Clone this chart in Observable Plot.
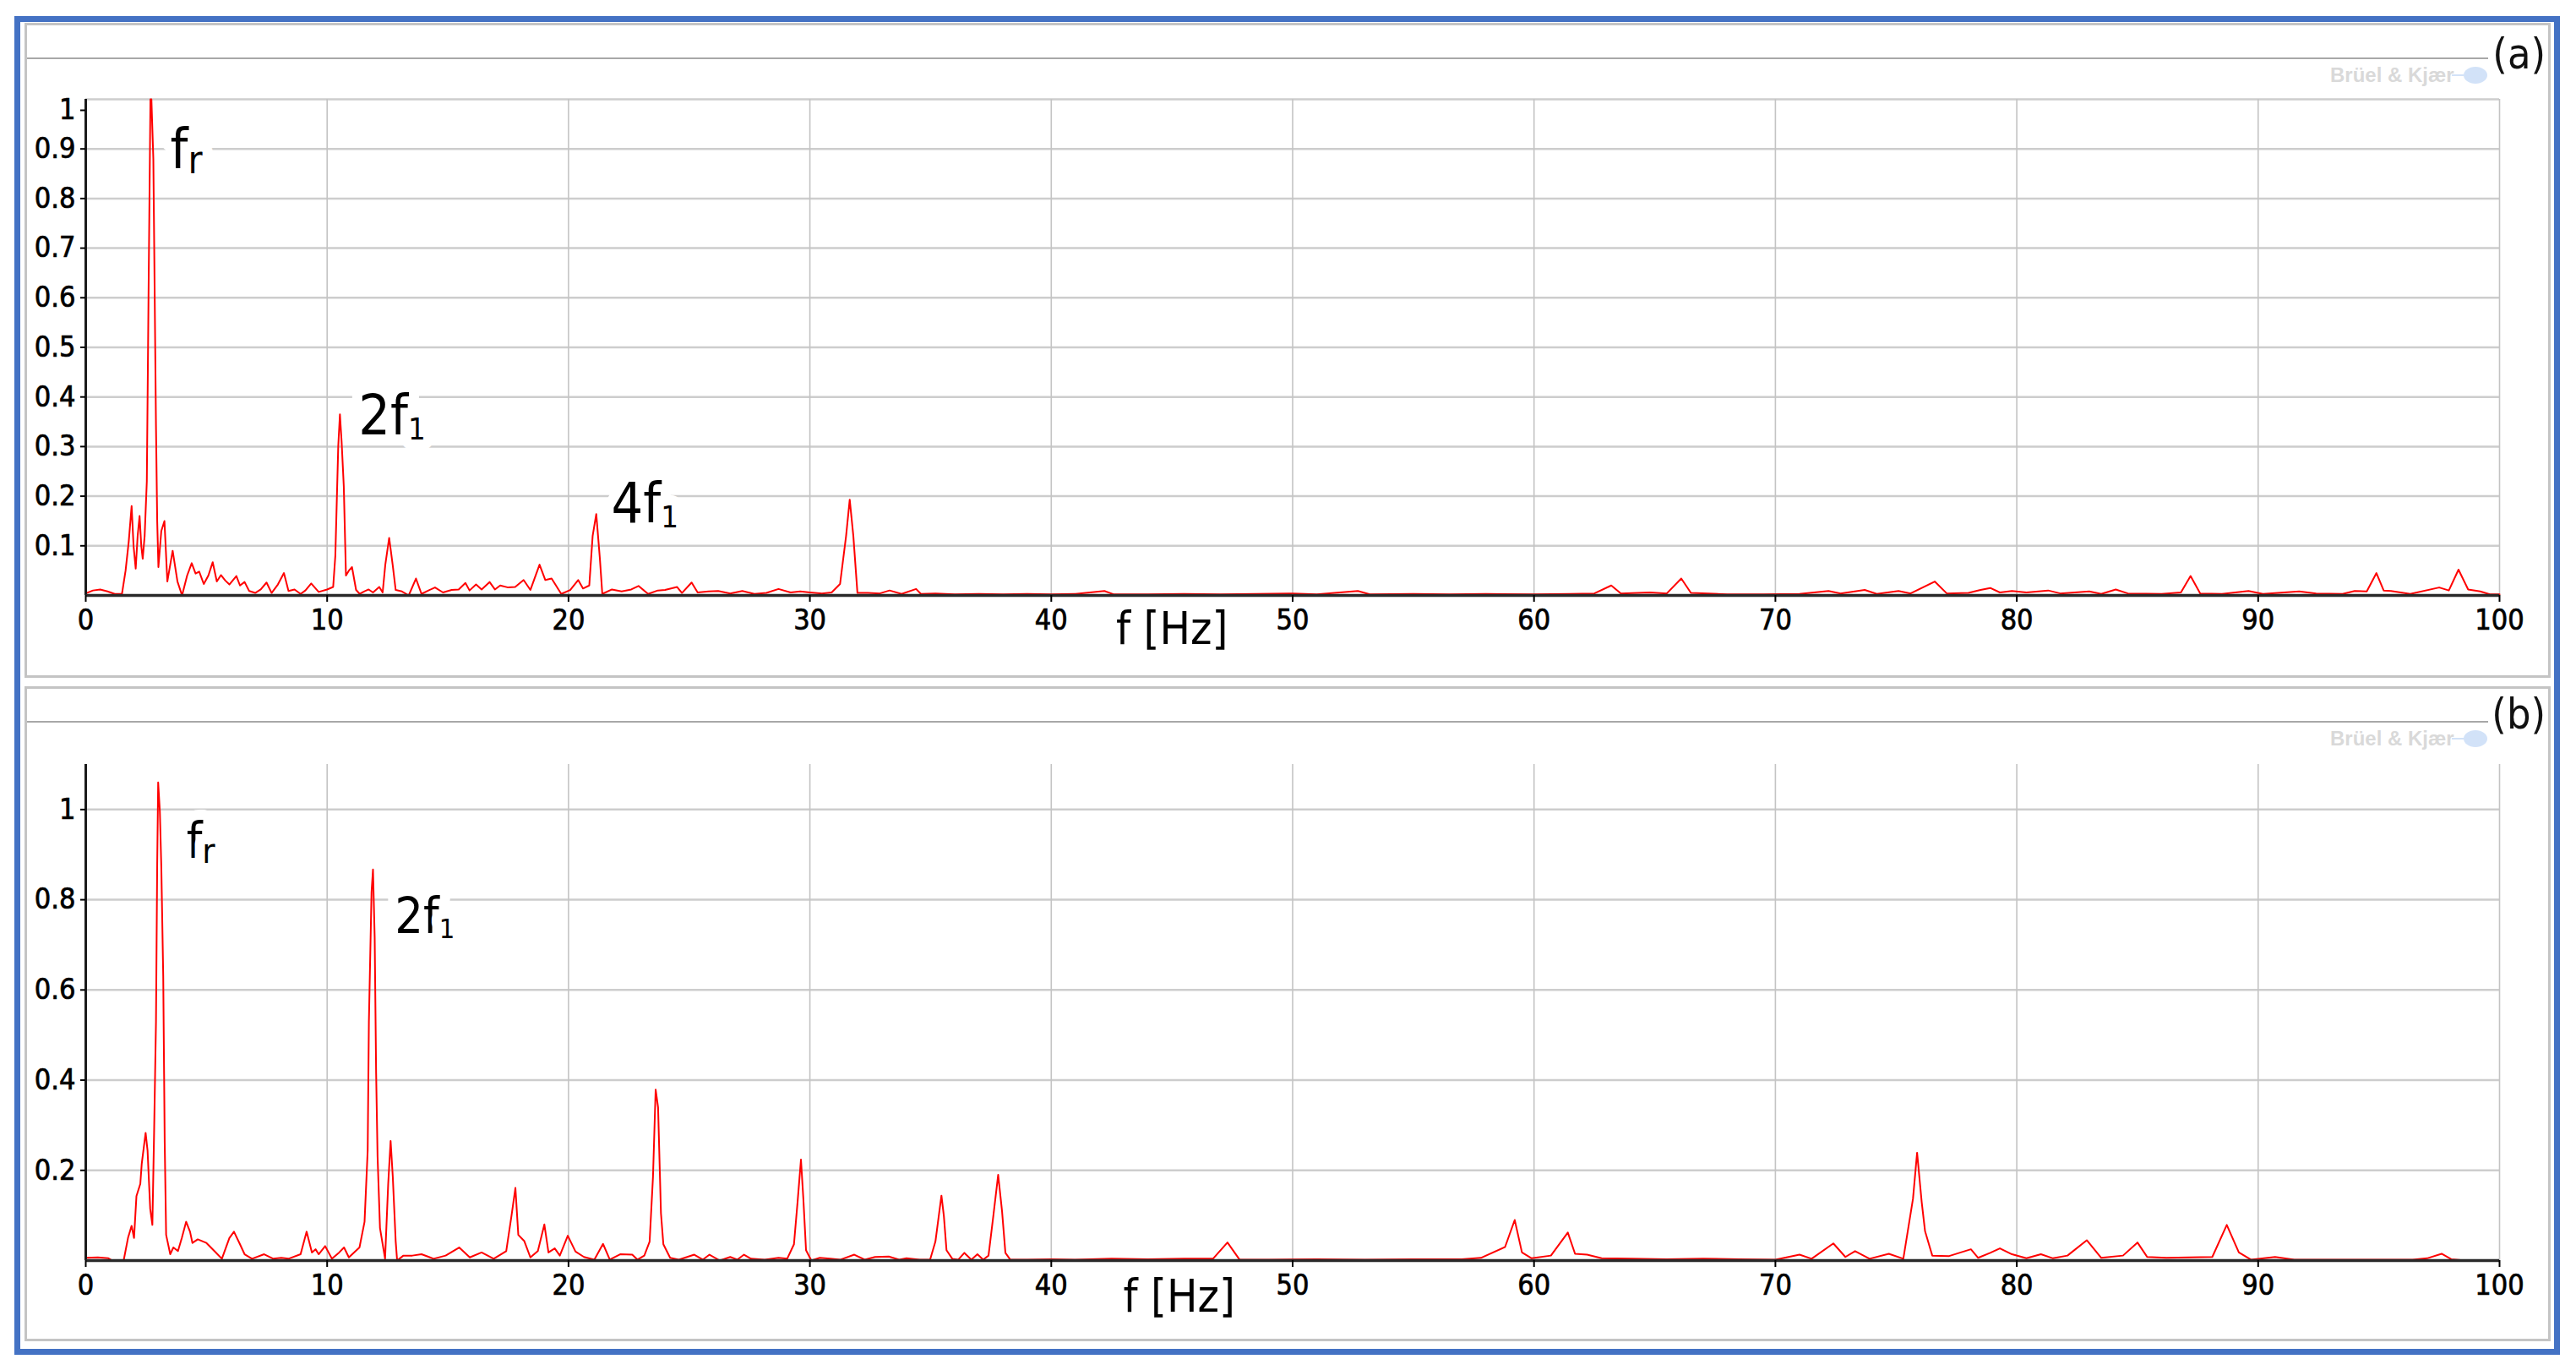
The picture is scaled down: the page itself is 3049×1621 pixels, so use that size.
<!DOCTYPE html>
<html>
<head>
<meta charset="utf-8">
<script src="https://cdn.jsdelivr.net/npm/d3@7"></script>
<script src="https://cdn.jsdelivr.net/npm/@observablehq/plot@0.6"></script>
<style>
  html, body { margin: 0; padding: 0; background: #fff; }
  #page { position: relative; width: 3049px; height: 1621px; background: #fff; overflow: hidden;
          font-family: 'DejaVu Sans Condensed', 'DejaVu Sans', sans-serif; font-stretch: condensed; }
  .abs { position: absolute; }
  .blue { left: 17px; top: 19px; width: 3013px; height: 1584px; box-sizing: border-box; border: 7px solid #4472c4; }
  .frame { left: 29px; width: 2990px; height: 775px; box-sizing: border-box; border: 3px solid #c4c4c4; }
  .hline { left: 32px; width: 2913px; height: 2px; background: #a8a8a8; }
  .plabel { width: 120px; text-align: right; font-size: 50px; line-height: 50px; color: #111; }
  .wm { font-family: 'Liberation Sans', Arial, sans-serif; font-weight: bold; font-size: 24px; line-height: 24px; color: #d9d9d9; font-stretch: normal; }
  .logo { width: 28px; height: 20px; border-radius: 50%; background: #d2e2f8; }
  .logoline { width: 14px; height: 2px; background: #d2e2f8; }
  .chart { left: 0; }
  #page svg g[aria-label="y-axis tick label"] text,
  #page svg g[aria-label="x-axis tick label"] text { stroke: #000; stroke-width: 0.7px; }
</style>
</head>
<body>
<div id="page">
  <div class="abs blue"></div>
  <div class="abs frame" style="top:27px"></div>
  <div class="abs frame" style="top:812px"></div>
  <div class="abs hline" style="top:68px"></div>
  <div class="abs hline" style="top:853px"></div>
  <div class="abs wm" style="left:2758px; top:77px">Brüel &amp; Kjær</div>
  <div class="abs logoline" style="left:2902px; top:88px"></div>
  <div class="abs logo" style="left:2916px; top:79px"></div>
  <div class="abs wm" style="left:2758px; top:862px">Brüel &amp; Kjær</div>
  <div class="abs logoline" style="left:2902px; top:873px"></div>
  <div class="abs logo" style="left:2916px; top:864px"></div>
  <div class="abs plabel" style="left:2893px; top:39px">(a)</div>
  <div class="abs plabel" style="left:2893px; top:820px">(b)</div>
  <div class="abs chart" id="chartA" style="top:0px"></div>
  <div class="abs chart" id="chartB" style="top:802px"></div>
</div>
<script>
// ---------- Data ----------
const freqA = [0,0.3,0.6,0.9,1.2,1.5,1.65,1.78,1.9,1.98,2.07,2.15,2.23,2.3,2.36,2.44,2.53,2.6,2.68,2.72,2.8,2.91,2.96,3.01,3.13,3.26,3.38,3.6,3.8,3.99,4.2,4.39,4.55,4.7,4.89,5.08,5.26,5.43,5.6,5.78,5.95,6.24,6.39,6.58,6.77,7.02,7.25,7.49,7.7,7.96,8.21,8.4,8.65,8.9,9.1,9.34,9.65,10.0,10.25,10.34,10.46,10.53,10.6,10.69,10.78,10.9,11.03,11.2,11.35,11.53,11.72,11.9,12.16,12.3,12.41,12.57,12.72,12.84,13.1,13.38,13.68,13.91,14.2,14.47,14.8,15.16,15.45,15.73,15.9,16.17,16.4,16.73,16.95,17.17,17.5,17.79,18.14,18.42,18.8,19.04,19.3,19.7,20.07,20.4,20.6,20.86,21.0,21.15,21.3,21.4,21.8,22.2,22.6,22.9,23.3,23.7,24.0,24.5,24.7,25.1,25.35,25.8,26.2,26.7,27.2,27.7,28.2,28.7,29.2,29.6,30.0,30.5,30.9,31.25,31.5,31.65,31.8,31.97,32.4,32.9,33.3,33.8,34.4,34.6,35.2,36.0,37,38,39,40,41,42.2,42.6,44,45.5,47,48.5,50.0,51,52.7,53.2,55,56.5,58,60,61.5,62.5,63.2,63.6,64.8,65.5,66.1,66.5,67.2,68,69.5,71,72.2,72.7,73.7,74.2,75.1,75.6,76.6,77.1,78,78.5,78.9,79.3,79.8,80.4,81.3,81.8,83.0,83.5,84.1,84.6,86,86.8,87.2,87.6,88.5,89.6,90.2,91.7,92.4,93.5,94.0,94.5,94.9,95.2,95.5,96.3,97.5,97.9,98.3,98.7,99.2,99.6,100];
const ampA = [0.004,0.01,0.012,0.008,0.003,0.003,0.05,0.108,0.18,0.1,0.054,0.12,0.16,0.1,0.074,0.12,0.23,0.6,1.0,1.0,0.88,0.34,0.15,0.057,0.13,0.15,0.028,0.09,0.028,0.0,0.04,0.065,0.044,0.048,0.023,0.04,0.067,0.028,0.041,0.03,0.022,0.039,0.02,0.027,0.009,0.005,0.012,0.026,0.005,0.022,0.045,0.009,0.012,0.003,0.01,0.024,0.007,0.012,0.017,0.08,0.3,0.365,0.31,0.22,0.04,0.05,0.057,0.011,0.003,0.008,0.012,0.006,0.017,0.006,0.062,0.116,0.06,0.011,0.008,0.0,0.034,0.003,0.01,0.016,0.006,0.011,0.012,0.025,0.01,0.022,0.012,0.027,0.012,0.02,0.016,0.017,0.031,0.011,0.062,0.031,0.034,0.003,0.011,0.031,0.014,0.02,0.12,0.164,0.074,0.003,0.012,0.008,0.012,0.019,0.003,0.01,0.011,0.017,0.005,0.026,0.006,0.008,0.009,0.004,0.009,0.003,0.005,0.013,0.006,0.008,0.006,0.004,0.006,0.023,0.12,0.193,0.12,0.005,0.005,0.004,0.01,0.003,0.013,0.003,0.004,0.002,0.003,0.002,0.003,0.002,0.003,0.009,0.002,0.002,0.003,0.002,0.003,0.004,0.002,0.009,0.002,0.003,0.002,0.003,0.002,0.003,0.004,0.02,0.004,0.006,0.004,0.034,0.005,0.004,0.002,0.002,0.003,0.009,0.004,0.011,0.003,0.009,0.004,0.028,0.004,0.005,0.011,0.015,0.006,0.009,0.006,0.01,0.004,0.008,0.003,0.012,0.004,0.003,0.006,0.039,0.004,0.003,0.009,0.003,0.008,0.004,0.003,0.009,0.008,0.045,0.01,0.009,0.003,0.016,0.01,0.052,0.012,0.008,0.002,0.002];

const freqB = [0,0.5,0.94,1.1,1.57,1.75,1.9,2.0,2.1,2.26,2.32,2.48,2.56,2.67,2.76,2.83,2.91,2.96,3.0,3.07,3.13,3.21,3.27,3.33,3.5,3.63,3.82,3.98,4.16,4.32,4.42,4.64,5.0,5.33,5.64,5.95,6.14,6.39,6.58,6.89,7.39,7.77,8.1,8.4,8.9,9.15,9.37,9.52,9.65,9.92,10.2,10.5,10.7,10.9,11.34,11.55,11.68,11.73,11.84,11.9,11.97,12.03,12.09,12.19,12.4,12.53,12.63,12.72,12.84,12.9,13.16,13.53,13.91,14.41,14.91,15.47,15.91,16.4,16.9,17.42,17.64,17.8,17.92,18.17,18.42,18.73,19.0,19.17,19.43,19.64,19.97,20.29,20.64,21.07,21.43,21.71,22.14,22.64,22.86,23.14,23.36,23.5,23.61,23.71,23.83,23.93,24.21,24.57,25.21,25.56,25.84,26.27,26.7,26.99,27.27,27.56,28.13,28.7,29.06,29.34,29.49,29.63,29.73,29.84,30.06,30.41,30.84,31.27,31.84,32.27,32.7,33.27,33.7,34.0,34.55,34.98,35.2,35.34,35.45,35.55,35.66,35.9,36.15,36.4,36.69,36.94,37.18,37.4,37.6,37.8,37.96,38.1,38.3,39,40,41,42.5,44,45.5,46.7,47.3,47.8,49,51,53,55,57,57.8,58.8,59.2,59.5,59.9,60.7,61.4,61.7,62.2,62.8,64,65.5,67,68.5,70.0,71.0,71.5,72.4,72.9,73.3,73.9,74.7,75.3,75.7,75.87,76.06,76.2,76.5,77.2,78.1,78.4,78.9,79.3,79.8,80.4,81.0,81.5,82.1,82.9,83.5,84.4,85.0,85.4,86.2,88.1,88.7,89.2,89.7,90.7,91.5,92.6,94.5,96.4,97.0,97.6,98.0,98.4];
const ampB = [0.006,0.007,0.005,0.0,0.0,0.05,0.077,0.05,0.143,0.17,0.215,0.283,0.244,0.115,0.079,0.28,0.53,0.88,1.06,0.996,0.874,0.63,0.265,0.057,0.014,0.029,0.021,0.05,0.086,0.064,0.039,0.047,0.039,0.021,0.004,0.05,0.064,0.036,0.014,0.004,0.014,0.004,0.006,0.004,0.014,0.064,0.018,0.025,0.014,0.032,0.004,0.018,0.029,0.007,0.029,0.086,0.244,0.53,0.817,0.867,0.716,0.415,0.23,0.072,0.004,0.17,0.265,0.186,0.043,0.0,0.011,0.011,0.014,0.004,0.011,0.029,0.007,0.018,0.004,0.021,0.1,0.161,0.057,0.043,0.007,0.021,0.08,0.018,0.027,0.011,0.055,0.02,0.008,0.002,0.037,0.002,0.014,0.013,0.002,0.011,0.042,0.186,0.379,0.34,0.105,0.036,0.006,0.002,0.013,0.002,0.013,0.0,0.008,0.002,0.013,0.004,0.002,0.006,0.004,0.036,0.13,0.224,0.136,0.023,0.0,0.006,0.004,0.002,0.013,0.002,0.008,0.009,0.002,0.005,0.002,0.002,0.042,0.099,0.144,0.099,0.023,0.004,0.002,0.017,0.002,0.014,0.002,0.011,0.099,0.19,0.11,0.017,0.002,0.002,0.003,0.002,0.004,0.003,0.004,0.004,0.04,0.002,0.002,0.003,0.002,0.003,0.003,0.006,0.03,0.09,0.018,0.005,0.011,0.062,0.015,0.013,0.005,0.004,0.003,0.004,0.003,0.002,0.013,0.004,0.038,0.008,0.021,0.004,0.015,0.004,0.137,0.239,0.13,0.065,0.011,0.01,0.025,0.006,0.017,0.027,0.014,0.005,0.014,0.005,0.011,0.045,0.006,0.011,0.04,0.008,0.006,0.008,0.079,0.018,0.002,0.008,0.002,0.002,0.002,0.002,0.005,0.015,0.003,0.001];

const xTicks = [0,10,20,30,40,50,60,70,80,90,100];
const yTicksA = [0.1,0.2,0.3,0.4,0.5,0.6,0.7,0.8,0.9];
const yTopTickA = [1];
const yTicksB = [0.2,0.4,0.6,0.8,1];
const gridYA = [0.1,0.2,0.3,0.4,0.5,0.6,0.7,0.8,0.9,1];
const gridYB = [0.2,0.4,0.6,0.8,1];
const gridX = [10,20,30,40,50,60,70,80,90,100];

const annotTextA = ["f_r", "2f_1", "4f_1"];
const annotXA = [3.5, 11.3, 21.77];
const annotYA = [0.862, 0.324, 0.148];
const annotTextB = ["f_r", "2f_1"];
const annotXB = [4.17, 12.8];
const annotYB = [0.892, 0.727];
const axisTitle = "f [Hz]";

// ---------- Drawing ----------
const FONT = "'DejaVu Sans Condensed', 'DejaVu Sans', sans-serif";
const RED = "#ff0000";

function makeChart({freq, amp, yDomain, height, marginTop, marginBottom, gridY, yTicks, topTick, annotText, annotX, annotY, annotSize, titleX, titleDy}) {
  const data = freq.map((f, i) => ({f, a: amp[i]}));
  const annots = annotText.map((t, i) => ({t, x: annotX[i], y: annotY[i]}));
  const marks = [
    Plot.gridY(gridY, {stroke: "#cdcdcd", strokeOpacity: 1, strokeWidth: 2.5}),
    Plot.gridX(gridX, {stroke: "#c4c4c4", strokeOpacity: 1, strokeWidth: 1.6}),
    Plot.text(annots, {x: "x", y: "y", text: "t", textAnchor: "start", lineAnchor: "bottom",
      fontSize: annotSize, fontFamily: FONT, fill: "#000", stroke: "#fff", strokeWidth: 24}),
    Plot.line(data, {x: "f", y: "a", stroke: RED, strokeWidth: 2, curve: "linear"}),
    Plot.ruleX([0], {stroke: "#1a1a1a", strokeWidth: 3}),
    Plot.ruleY([0], {stroke: "#2a2a2a", strokeWidth: 3.5}),
    Plot.axisY(yTicks, {tickSize: 6, tickPadding: 6, fontSize: 34, strokeWidth: 2, tickFormat: d => String(d)}),
    Plot.axisX(xTicks, {tickSize: 8, tickPadding: 8, fontSize: 34, strokeWidth: 2, tickFormat: d => String(d)}),
    Plot.text([axisTitle], {x: titleX, frameAnchor: "bottom", dy: titleDy, text: d => d, fontSize: 54, fontFamily: FONT, fill: "#000"})
  ];
  if (topTick) marks.push(Plot.axisY(topTick, {tickSize: 6, tickPadding: 6, fontSize: 34, strokeWidth: 2, dy: 13, tickFormat: d => String(d)}));
  const svg = Plot.plot({
    width: 3049, height,
    marginLeft: 101, marginRight: 91, marginTop, marginBottom,
    x: {domain: [0, 100], label: null},
    y: {domain: yDomain, label: null},
    style: {fontFamily: FONT, fontSize: "34px", color: "#000", background: "transparent", overflow: "visible"},
    marks
  });
  // subscripts for annotations written as "main_sub"
  svg.querySelectorAll("text").forEach(t => {
    const s = t.textContent;
    if (s.includes("_") && t.children.length === 0) {
      const [main, sub] = s.split("_");
      t.textContent = main;
      const ts = document.createElementNS("http://www.w3.org/2000/svg", "tspan");
      ts.setAttribute("font-size", sub === "r" ? "0.7em" : "0.55em");
      ts.setAttribute("dy", "6");
      ts.textContent = sub;
      t.appendChild(ts);
    }
  });
  return svg;
}

document.getElementById("chartA").appendChild(makeChart({
  freq: freqA, amp: ampA, yDomain: [0, 1], height: 802, marginTop: 117, marginBottom: 98,
  gridY: gridYA, yTicks: yTicksA, topTick: yTopTickA,
  annotText: annotTextA, annotX: annotXA, annotY: annotYA, annotSize: 66, titleX: 45.0, titleDy: 57
}));
document.getElementById("chartB").appendChild(makeChart({
  freq: freqB, amp: ampB, yDomain: [0, 1.1], height: 785, marginTop: 102, marginBottom: 96,
  gridY: gridYB, yTicks: yTicksB, topTick: null,
  annotText: annotTextB, annotX: annotXB, annotY: annotYB, annotSize: 59, titleX: 45.3, titleDy: 60
}));
</script>
</body>
</html>
